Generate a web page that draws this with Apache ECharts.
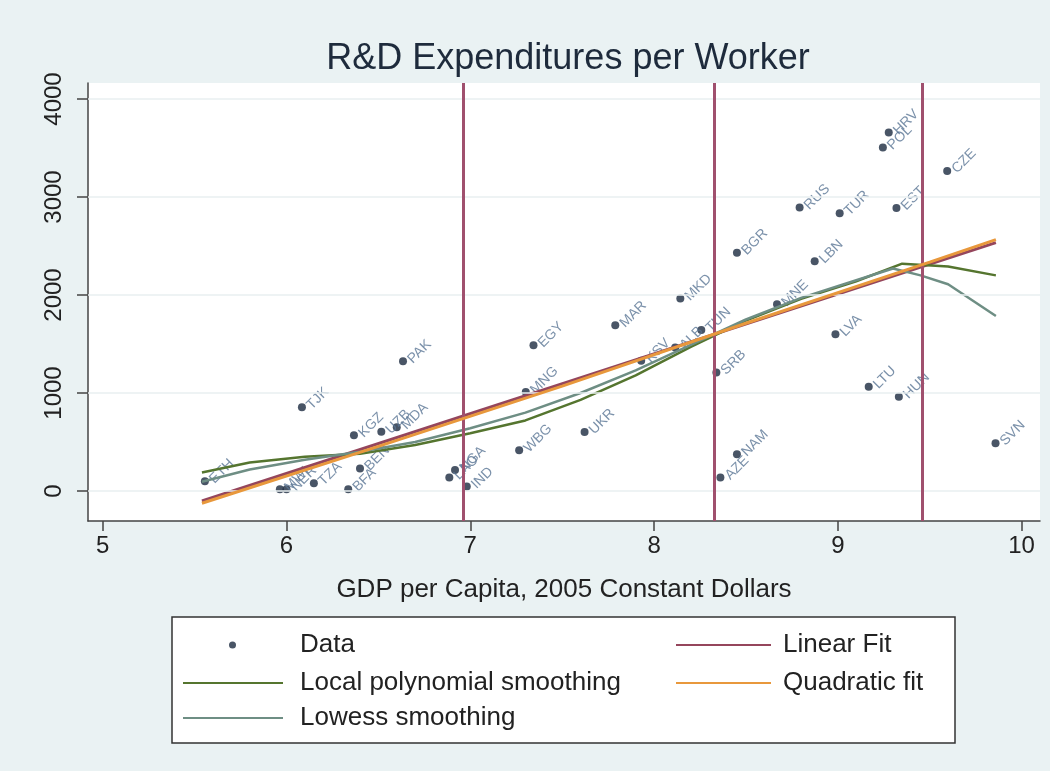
<!DOCTYPE html>
<html>
<head>
<meta charset="utf-8">
<script src="https://cdn.jsdelivr.net/npm/echarts@6/dist/echarts.min.js"></script>
<style>
  html, body { margin: 0; padding: 0; background: #eaf2f3; }
  #chart { width: 1050px; height: 771px; }
</style>
</head>
<body>
<div id="chart"></div>
<script>
// country codes, log GDP per capita, R&D per worker
const codes = ['ETH', 'MWI', 'NER', 'TZA', 'BFA', 'BEN', 'TJK', 'KGZ', 'UZB', 'MDA', 'PAK',
  'LAO', 'NGA', 'IND', 'WBG', 'MNG', 'EGY', 'UKR', 'MAR', 'KSV', 'ALB', 'MKD', 'TUN',
  'SRB', 'AZE', 'NAM', 'BGR', 'MNE', 'RUS', 'LBN', 'LVA', 'TUR', 'LTU', 'POL', 'HRV',
  'EST', 'HUN', 'CZE', 'SVN']
const gdp = [5.556, 5.964, 6.0, 6.149, 6.336, 6.40, 6.084, 6.367, 6.516, 6.60, 6.634,
  6.886, 6.917, 6.981, 7.266, 7.302, 7.344, 7.622, 7.789, 7.93, 8.115, 8.143, 8.257,
  8.339, 8.361, 8.451, 8.451, 8.669, 8.792, 8.874, 8.987, 9.010, 9.168, 9.245, 9.277,
  9.319, 9.332, 9.595, 9.858]
const rd = [100, 17, 17, 80, 17, 230, 854, 569, 605, 650, 1323,
  137, 214, 45, 415, 1010, 1487, 602, 1691, 1330, 1463, 1963, 1643,
  1208, 137, 374, 2432, 1905, 2892, 2344, 1599, 2834, 1065, 3504, 3657,
  2888, 963, 3265, 487]

const linearFit = [[5.54, -102], [9.86, 2535]]
const quadFit = [[5.54, -125], [6.5, 455], [7.5, 1070], [8.5, 1712], [9.5, 2335], [9.86, 2565]]
const localPoly = [[5.54, 188], [5.8, 290], [6.1, 350], [6.4, 380], [6.7, 470], [7.0, 590],
  [7.3, 720], [7.6, 930], [7.9, 1180], [8.2, 1470], [8.5, 1740], [8.8, 1960], [9.1, 2140],
  [9.35, 2320], [9.6, 2290], [9.86, 2200]]
const lowess = [[5.54, 95], [5.8, 220], [6.1, 320], [6.4, 400], [6.7, 500], [7.0, 640],
  [7.3, 800], [7.6, 1000], [7.9, 1230], [8.2, 1490], [8.5, 1750], [8.8, 1970], [9.1, 2150],
  [9.3, 2270], [9.45, 2200], [9.6, 2110], [9.86, 1786]]

const xLines = [6.955, 8.328, 9.455]
const xTicks = [5, 6, 7, 8, 9, 10]
const yTicks = [0, 1000, 2000, 3000, 4000]

const chart = echarts.init(document.getElementById('chart'))

const fontFamily = 'Liberation Sans, Arial, sans-serif'

// one legend per row so the two-column layout lines up like the original
function legendRow(name, left, top, width, pad) {
  return {
    data: [{ name: name, icon: 'rect' }],
    left: left,
    top: top,
    padding: 0,
    itemWidth: width,
    itemHeight: 2,
    selectedMode: false,
    textStyle: { fontSize: 26, lineHeight: 26, color: '#222', fontFamily, padding: [0, 0, 0, pad] }
  }
}

const option = {
  backgroundColor: '#eaf2f3',
  animation: false,
  title: {
    text: 'R&D Expenditures per Worker',
    left: 563,
    top: 36,
    textAlign: 'center',
    textStyle: { fontSize: 36, fontWeight: 'normal', color: '#1e2b3c', fontFamily }
  },
  legend: [
    {
      data: [{ name: 'Data', icon: 'circle' }],
      left: 229,
      top: 632,
      padding: 0,
      itemWidth: 7,
      itemHeight: 7,
      selectedMode: false,
      textStyle: { fontSize: 26, lineHeight: 26, color: '#222', fontFamily, padding: [0, 0, 0, 59] }
    },
    legendRow('Local polynomial smoothing', 183, 670, 100, 12),
    legendRow('Lowess smoothing', 183, 705, 100, 12),
    legendRow('Linear Fit', 676, 632, 95, 7),
    legendRow('Quadratic fit', 676, 670, 95, 7)
  ],
  graphic: [
    {
      type: 'rect',
      z: -1,
      shape: { x: 172, y: 617, width: 783, height: 126 },
      style: { fill: '#ffffff', stroke: '#333', lineWidth: 1.5 }
    }
  ],
  grid: {
    left: 88,
    right: 10,
    top: 83,
    bottom: 250,
    show: true,
    backgroundColor: '#ffffff',
    borderWidth: 0
  },
  xAxis: {
    type: 'value',
    min: 4.92,
    max: 10.1,
    name: 'GDP per Capita, 2005 Constant Dollars',
    nameLocation: 'middle',
    nameGap: 56,
    nameTextStyle: { fontSize: 26, color: '#222', fontFamily },
    axisLine: { show: true, onZero: false, lineStyle: { color: '#444', width: 1.5 } },
    axisTick: { show: true, length: 10, customValues: xTicks, lineStyle: { color: '#444', width: 1.5 } },
    axisLabel: { customValues: xTicks, fontSize: 24, color: '#222', margin: 13, fontFamily },
    splitLine: { show: false }
  },
  yAxis: {
    type: 'value',
    min: -306,
    max: 4163,
    axisLine: { show: true, lineStyle: { color: '#444', width: 1.5 } },
    axisTick: { show: true, length: 11, customValues: yTicks, lineStyle: { color: '#444', width: 1.5 } },
    axisLabel: {
      customValues: yTicks,
      formatter: v => String(v),
      fontSize: 24,
      color: '#222',
      margin: 22,
      rotate: 90,
      fontFamily
    },
    splitLine: { show: false }
  },
  series: [
    {
      // grid lines and the three vertical reference lines
      name: 'refs',
      type: 'line',
      data: [],
      z: 1,
      markLine: {
        silent: true,
        symbol: 'none',
        label: { show: false },
        data: [
          ...yTicks.map(v => ({ yAxis: v, lineStyle: { color: '#e9eff0', width: 1.5, type: 'solid' } })),
          ...xLines.map(v => ({ xAxis: v, lineStyle: { color: '#a0506e', width: 3, type: 'solid' } }))
        ]
      }
    },
    {
      name: 'Data',
      type: 'scatter',
      symbolSize: 8,
      z: 2,
      itemStyle: { color: '#1c2a40' },
      label: {
        show: true,
        position: 'right',
        distance: 3,
        rotate: 45,
        formatter: '{b}',
        fontSize: 14,
        color: '#5a7595',
        fontFamily
      },
      labelLayout: { hideOverlap: false },
      data: codes.map((c, i) => ({ name: c, value: [gdp[i], rd[i]] }))
    },
    {
      name: 'Linear Fit',
      type: 'line',
      symbol: 'none',
      z: 4,
      lineStyle: { color: '#95465c', width: 3 },
      itemStyle: { color: '#95465c' },
      data: linearFit
    },
    {
      name: 'Local polynomial smoothing',
      type: 'line',
      symbol: 'none',
      z: 4,
      lineStyle: { color: '#55752f', width: 2.5 },
      itemStyle: { color: '#55752f' },
      data: localPoly
    },
    {
      name: 'Quadratic fit',
      type: 'line',
      symbol: 'none',
      z: 5,
      lineStyle: { color: '#e8983c', width: 3 },
      itemStyle: { color: '#e8983c' },
      data: quadFit
    },
    {
      name: 'Lowess smoothing',
      type: 'line',
      symbol: 'none',
      z: 4,
      lineStyle: { color: '#6e8e84', width: 2.5 },
      itemStyle: { color: '#6e8e84' },
      data: lowess
    }
  ]
}

chart.setOption(option)
</script>
</body>
</html>
